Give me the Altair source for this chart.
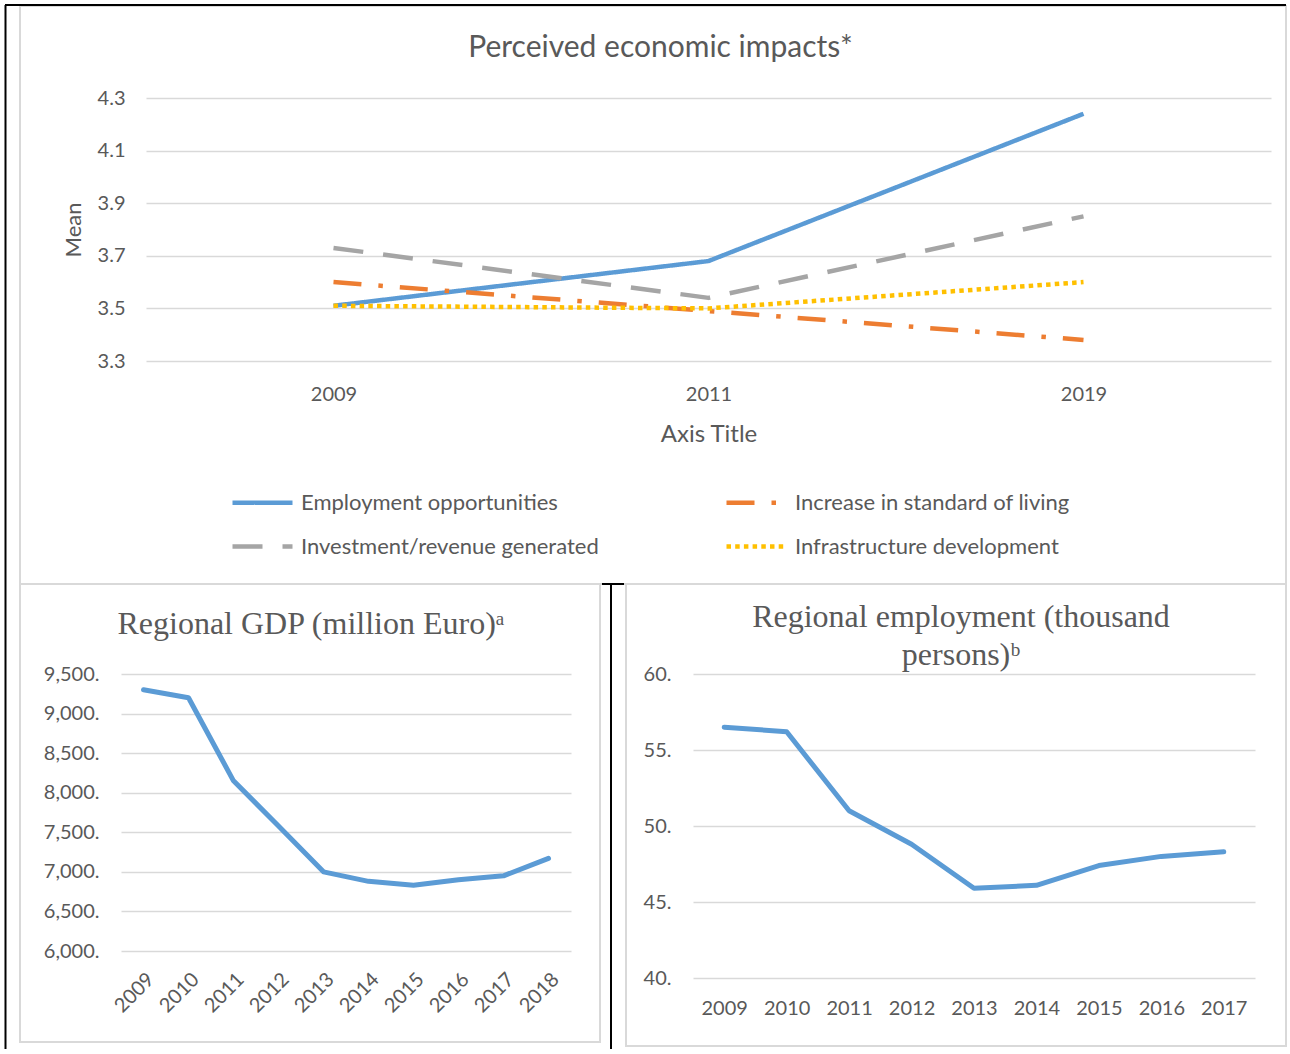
import altair as alt
import pandas as pd

# ---------------- data ----------------
survey_years = ["2009", "2011", "2019"]
series_names = [
    "Employment opportunities",
    "Increase in standard of living",
    "Investment/revenue generated",
    "Infrastructure development",
]
employment_opportunities = [3.51, 3.68, 4.24]
standard_of_living = [3.60, 3.49, 3.38]
investment_revenue = [3.73, 3.54, 3.85]
infrastructure_dev = [3.51, 3.50, 3.60]
mean_ticks = [3.3, 3.5, 3.7, 3.9, 4.1, 4.3]

gdp_years = ["2009", "2010", "2011", "2012", "2013", "2014", "2015", "2016", "2017", "2018"]
gdp_values = [9300, 9200, 8150, 7580, 7000, 6880, 6830, 6900, 6950, 7170]
gdp_ticks = [6000, 6500, 7000, 7500, 8000, 8500, 9000, 9500]

emp_years = ["2009", "2010", "2011", "2012", "2013", "2014", "2015", "2016", "2017"]
emp_values = [56.5, 56.2, 51.0, 48.8, 45.9, 46.1, 47.4, 48.0, 48.3]
emp_ticks = [40, 45, 50, 55, 60]

# ---------------- styles ----------------
series_colors = ["#5B9BD5", "#ED7D31", "#A5A5A5", "#FFC000"]
series_dashes = [[1, 0], [28, 17, 4.5, 17], [30, 20], [4.5, 4.2]]
# legend fills column by column: this order gives rows (Employment, Increase) / (Investment, Infrastructure)
legend_order = [series_names[0], series_names[2], series_names[1], series_names[3]]
color_map = dict(zip(series_names, series_colors))
dash_map = dict(zip(series_names, series_dashes))

GRID = "#D9D9D9"
TXT = "#595959"
SANS = "Lato"
SERIF = "Liberation Serif"

top_df = pd.DataFrame({
    "year": survey_years * 4,
    "series": [s for s in series_names for _ in survey_years],
    "mean": employment_opportunities + standard_of_living + investment_revenue + infrastructure_dev,
})
gdp_df = pd.DataFrame({"year": gdp_years, "gdp": gdp_values})
emp_df = pd.DataFrame({"year": emp_years, "emp": emp_values})
one = pd.DataFrame({"k": [0]})


def frame(x1, x2, y1, y2):
    return alt.Chart(one).mark_rect(fillOpacity=0, stroke=GRID, strokeWidth=2).encode(
        x=alt.value(x1), x2=alt.value(x2), y=alt.value(y1), y2=alt.value(y2))


def rule(x1, x2, y1, y2):
    return alt.Chart(one).mark_rule(color="black", strokeWidth=2).encode(
        x=alt.value(x1), x2=alt.value(x2), y=alt.value(y1), y2=alt.value(y2))


legend = alt.Legend(
    title=None, orient="none", legendX=109, legendY=372, columns=2,
    symbolType="stroke", symbolSize=3600, symbolStrokeWidth=4.5,
    labelFont=SANS, labelFontSize=22, labelColor=TXT, labelLimit=600,
    labelOffset=6, columnPadding=118, rowPadding=0,
)

top_lines = alt.Chart(top_df).mark_line(strokeWidth=4.5, strokeJoin="round").encode(
    x=alt.X("year:O", sort=survey_years,
            scale=alt.Scale(type="point", padding=0.5),
            axis=alt.Axis(title="Axis Title", labelAngle=0, labelFontSize=20, labelPadding=23,
                          titleFontSize=24, titlePadding=18, grid=False)),
    y=alt.Y("mean:Q", scale=alt.Scale(domain=[3.3, 4.3], nice=False, zero=False),
            axis=alt.Axis(values=mean_ticks, format=".1f", title="Mean", labelFontSize=20,
                          labelPadding=21, titleFontSize=22, titlePadding=12)),
    color=alt.Color("series:N", scale=alt.Scale(domain=legend_order,
                                                range=[color_map[s] for s in legend_order]), legend=legend),
    strokeDash=alt.StrokeDash("series:N", scale=alt.Scale(domain=legend_order,
                                                          range=[dash_map[s] for s in legend_order]), legend=legend),
)

top_chart = alt.layer(
    frame(-126, 1140, -92, 486),
    rule(-141, 1140, -93, -93),
    rule(-140.5, -140.5, -93, 951),
    rule(456, 478, 486, 486),
    rule(465, 465, 486, 951),
    top_lines,
).properties(
    width=1125, height=263,
    title=alt.TitleParams("Perceived economic impacts*", font=SANS, fontSize=30, fontWeight="normal",
                          color=TXT, frame="group", anchor="middle", offset=-59, dx=-48),
)

spacer = alt.Chart(one).mark_point(opacity=0).encode(x=alt.value(0), y=alt.value(0)).properties(width=1, height=1)

gdp_line = alt.Chart(gdp_df).mark_line(color="#5B9BD5", strokeWidth=5, strokeJoin="round", strokeCap="round").encode(
    x=alt.X("year:O", sort=gdp_years, scale=alt.Scale(type="point", padding=0.5),
            axis=alt.Axis(title=None, labelAngle=-45, labelFontSize=20, labelPadding=18, grid=False)),
    y=alt.Y("gdp:Q", scale=alt.Scale(domain=[6000, 9500], nice=False, zero=False),
            axis=alt.Axis(values=gdp_ticks, labelExpr="format(datum.value, ',') + '.'", title=None,
                          labelFontSize=20, labelPadding=22)),
)
gdp_chart = alt.layer(frame(-101, 479, -90, 368), gdp_line).properties(
    width=450, height=277,
    title=alt.TitleParams("Regional GDP (million Euro)\u1d43", font=SERIF, fontSize=32, fontWeight="normal",
                          color=TXT, frame="group", anchor="middle", offset=-58, dx=-35),
)

emp_line = alt.Chart(emp_df).mark_line(color="#5B9BD5", strokeWidth=5, strokeJoin="round", strokeCap="round").encode(
    x=alt.X("year:O", sort=emp_years, scale=alt.Scale(type="point", padding=0.5),
            axis=alt.Axis(title=None, labelAngle=0, labelFontSize=20, labelPadding=20, grid=False)),
    y=alt.Y("emp:Q", scale=alt.Scale(domain=[40, 60], nice=False, zero=False),
            axis=alt.Axis(values=emp_ticks, labelExpr="format(datum.value, ',') + '.'", title=None,
                          labelFontSize=20, labelPadding=22)),
)
emp_chart = alt.layer(frame(-67, 593, -90, 372), emp_line).properties(
    width=562, height=304,
    title=alt.TitleParams(["Regional employment (thousand", "persons)\u1d47"], font=SERIF, fontSize=32,
                          fontWeight="normal", lineHeight=38, color=TXT, frame="group", anchor="middle",
                          offset=-89, dx=-13),
)

row1 = alt.hconcat(spacer, top_chart, spacing=24, bounds="flush")
row2 = alt.hconcat(gdp_chart, emp_chart, spacing=122, bounds="flush")

chart = alt.vconcat(row1, row2, spacing=576, bounds="flush").resolve_scale(
    color="independent", strokeDash="independent"
).properties(
    padding={"left": 4, "top": 4, "right": 0, "bottom": 0},
    background="white",
).configure_view(strokeWidth=0).configure_axis(
    gridColor=GRID, gridWidth=1.5, domain=False, ticks=False,
    labelColor=TXT, titleColor=TXT, labelFont=SANS, titleFont=SANS, titleFontWeight="normal",
)

chart.save("out.html", embed_options={"renderer": "svg", "actions": False})
